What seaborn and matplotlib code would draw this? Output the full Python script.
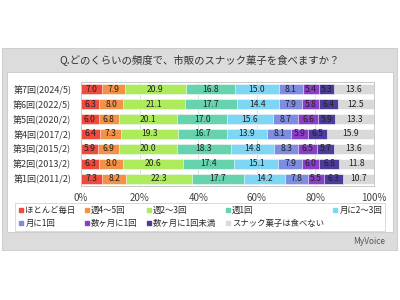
import numpy as np
import pandas as pd
import matplotlib
matplotlib.use('Agg')
import matplotlib.pyplot as plt
from matplotlib.patches import Rectangle
from matplotlib.lines import Line2D
import seaborn as sns

# survey rounds (top to bottom)
rounds = ['第7回(2024/5)', '第6回(2022/5)', '第5回(2020/2)', '第4回(2017/2)',
          '第3回(2015/2)', '第2回(2013/2)', '第1回(2011/2)']

answers = ['ほとんど毎日', '週4～5回', '週2～3回', '週1回', '月に2～3回',
           '月に1回', '数ヶ月に1回', '数ヶ月に1回未満', 'スナック菓子は食べない']

everyday = [7.0, 6.3, 6.0, 6.4, 5.9, 6.3, 7.3]
week4_5 = [7.9, 8.0, 6.8, 7.3, 6.9, 8.0, 8.2]
week2_3 = [20.9, 21.1, 20.1, 19.3, 20.0, 20.6, 22.3]
week1 = [16.8, 17.7, 17.0, 16.7, 18.3, 17.4, 17.7]
month2_3 = [15.0, 14.4, 15.6, 13.9, 14.8, 15.1, 14.2]
month1 = [8.1, 7.9, 8.7, 8.1, 8.3, 7.9, 7.8]
months = [5.4, 5.8, 6.6, 5.9, 6.5, 6.0, 5.5]
rarely = [5.3, 6.4, 5.9, 6.5, 5.7, 6.8, 6.3]
never = [13.6, 12.5, 13.3, 15.9, 13.6, 11.8, 10.7]

colors = ['#EE4A3F', '#F39247', '#AEEB5C', '#66D3AE', '#7DD7F4',
          '#7E8CE2', '#8B3FC6', '#4E3C9C', '#D9D9D9']

df = pd.DataFrame(
    np.array([everyday, week4_5, week2_3, week1, month2_3, month1, months, rarely, never]).T,
    index=rounds, columns=answers)
cum = df.cumsum(axis=1)

sns.set_theme(style='white')
plt.rcParams['font.family'] = ['Noto Sans CJK JP', 'DejaVu Sans']

W, H = 400, 300
fig = plt.figure(figsize=(4, 3), dpi=100)
fig.patch.set_facecolor('white')

def px(x0, y0, x1, y1):
    return (x0 / W, 1 - y1 / H, (x1 - x0) / W, (y1 - y0) / H)

# gray frame + white inner panel (behind the axes)
b = px(2, 48, 397, 250)
fig.patches.append(Rectangle(b[:2], b[2], b[3], transform=fig.transFigure,
                             facecolor='#DCDCDC', edgecolor='#C8C8C8', lw=0.6, zorder=-2))
b = px(7, 72, 393, 232)
fig.patches.append(Rectangle(b[:2], b[2], b[3], transform=fig.transFigure,
                             facecolor='white', edgecolor='#C8C8C8', lw=0.6, zorder=-1))

fig.text(200 / W, 1 - 60 / H, 'Q.どのくらいの頻度で、市販のスナック菓子を食べますか？',
         ha='center', va='center', fontsize=7.5, color='#333333')

ax = fig.add_axes(px(81, 82, 374, 186))
ax.set_facecolor('white')

# stacked bars: draw cumulative totals from the widest down
for i in range(len(answers) - 1, -1, -1):
    sns.barplot(x=cum[answers[i]].values, y=rounds, order=rounds, color=colors[i],
                orient='h', width=0.68, saturation=1, ax=ax, zorder=2,
                edgecolor='white', linewidth=0.4)

for r, name in enumerate(rounds):
    for i, a in enumerate(answers):
        v = df.loc[name, a]
        ax.text(cum.loc[name, a] - v / 2, r, f'{v:.1f}', ha='center', va='center',
                fontsize=6.2, color='#222222', zorder=3)

ax.set_xlim(0, 100)
ax.set_xticks([0, 20, 40, 60, 80, 100])
ax.set_xticklabels(['0%', '20%', '40%', '60%', '80%', '100%'], fontsize=7, color='#444444')
ax.tick_params(axis='y', labelsize=6.5, colors='#333333', length=0, pad=7)
ax.tick_params(axis='x', length=0, pad=5)
ax.set_xlabel('')
ax.set_ylabel('')
for x in [20, 40, 60, 80]:
    ax.axvline(x, color='#D9D9D9', lw=0.6, zorder=1)
for s in ax.spines.values():
    s.set_color('#BFBFBF')
    s.set_linewidth(0.6)

# legend filled row by row (matplotlib fills columns first)
order = [0, 5, 1, 6, 2, 7, 3, 8, 4]
handles = [Line2D([], [], marker='s', ls='', markersize=3.5, color=colors[k]) for k in order]
labels = [answers[k] for k in order]
leg = fig.legend(handles, labels, ncol=5, loc='center left',
                 bbox_to_anchor=px(15, 204, 385, 230), mode='expand',
                 fontsize=6, frameon=True, fancybox=False, borderaxespad=0,
                 handletextpad=0.1, handlelength=0.8, labelspacing=0.45,
                 borderpad=0.35, columnspacing=0.5)
leg.get_frame().set_edgecolor('#C8C8C8')
leg.get_frame().set_linewidth(0.6)

fig.text(385 / W, 1 - 242 / H, 'MyVoice', ha='right', va='center', fontsize=6,
         style='italic', color='#555555')

fig.savefig('out.png', dpi=100)
